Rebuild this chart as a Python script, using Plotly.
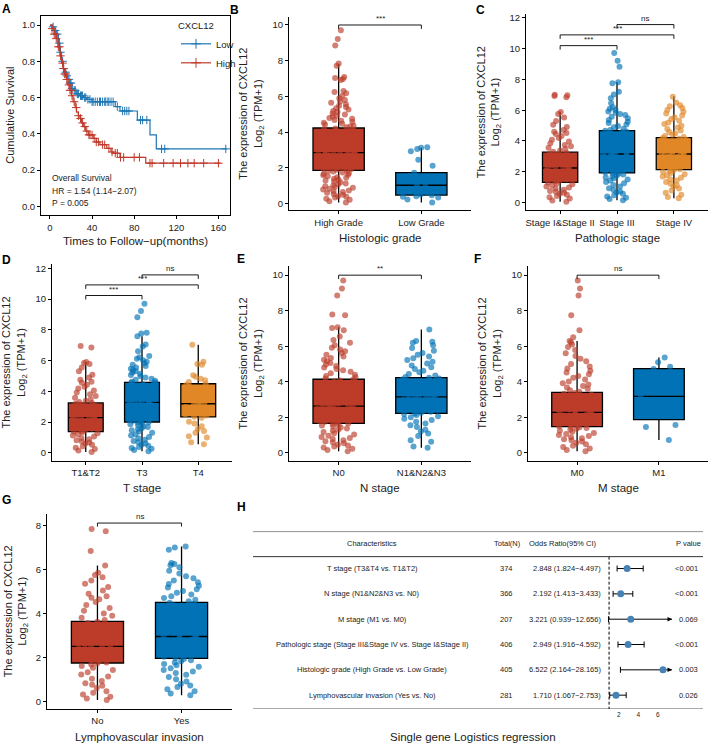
import numpy as np
import plotly.graph_objects as go

W, H = 708, 743
RED, BLUE, ORANGE = "#BC3C29", "#0072B5", "#E18727"
KM_RED, KM_BLUE = "#C0392B", "#1F77B4"
FONT = "Arial, Liberation Sans, sans-serif"
TXT = "#222222"

# ---------------- A: Kaplan-Meier ----------------
km_low_t = [0, 2, 4, 6, 8, 9.5, 11, 12.7, 14, 15.8, 17, 19, 21, 22, 25, 28.5, 32, 35, 40, 62, 66.5, 83, 95, 101, 168]
km_low_s = [1.0, 0.99, 0.97, 0.95, 0.9, 0.85, 0.8, 0.76, 0.74, 0.72, 0.7, 0.68, 0.65, 0.64, 0.62, 0.61, 0.6, 0.59,
            0.577, 0.55, 0.526, 0.476, 0.394, 0.317, 0.317]
km_low_cens = [3, 5, 7, 9, 10, 12, 13, 15, 16, 18, 19, 20, 21, 23, 24, 26, 27, 29, 30, 31, 33, 34, 36, 38, 40, 41,
               43, 45, 47, 48, 50, 52, 53, 55, 56, 58, 60, 64, 69, 71, 73, 75, 86, 88, 92, 106, 109, 167]
km_high_t = [0, 2, 4, 6, 7.5, 9.5, 11, 12.7, 14, 15.8, 17, 19, 20.5, 22, 24, 25.3, 27, 28.5, 30, 31.7, 34, 36.4,
             41, 44, 47.5, 54, 58, 60, 66.5, 91, 162]
km_high_s = [1.0, 0.98, 0.95, 0.925, 0.88, 0.83, 0.79, 0.76, 0.73, 0.70, 0.67, 0.64, 0.61, 0.577, 0.545, 0.52, 0.50,
             0.485, 0.46, 0.44, 0.415, 0.394, 0.375, 0.355, 0.34, 0.32, 0.30, 0.293, 0.27, 0.238, 0.238]
km_high_cens = [2, 4, 5, 6, 8, 9, 10, 12, 13, 14, 15, 16, 18, 19, 20, 21, 23, 25, 27, 29, 31, 33, 35, 37, 38, 40,
                42, 44, 46, 50, 52, 56, 59, 62, 64, 67, 70, 80, 85, 95, 97, 108, 117, 124, 131, 137, 146, 160]

# ---------------- B: histologic grade ----------------
grade_cats = ["High Grade", "Low Grade"]
grade_q1 = [1.86, 0.47]
grade_med = [2.85, 1.02]
grade_q3 = [4.23, 1.73]
grade_lo = [0.06, 0.05]
grade_hi = [7.82, 3.12]
grade_high_pts = [
    0.06, 0.12, 0.21, 0.27, 0.33, 0.38, 0.41, 0.49, 0.53, 0.6, 0.64, 0.68, 0.73, 0.79, 0.83, 0.88, 0.93, 0.97, 1.02,
    1.08, 1.12, 1.19, 1.24, 1.29, 1.33, 1.38, 1.44, 1.47, 1.53, 1.58, 1.61, 1.66, 1.7, 1.74, 1.79, 1.82, 1.85,
    1.89, 1.93, 1.96, 2.01, 2.04, 2.09, 2.11, 2.16, 2.19, 2.23, 2.25, 2.29, 2.32, 2.37, 2.39, 2.44, 2.47, 2.49, 2.52,
    2.56, 2.59, 2.61, 2.64, 2.67, 2.69, 2.71, 2.74, 2.76, 2.78, 2.8, 2.83, 2.84,
    2.88, 2.92, 2.97, 3.01, 3.06, 3.09, 3.14, 3.18, 3.21, 3.26, 3.31, 3.35, 3.37, 3.42, 3.46, 3.49, 3.54, 3.58, 3.63,
    3.66, 3.71, 3.74, 3.78, 3.83, 3.88, 3.91, 3.95, 3.99, 4.03, 4.07, 4.12, 4.16, 4.2,
    4.27, 4.31, 4.36, 4.42, 4.47, 4.52, 4.58, 4.63, 4.68, 4.74, 4.79, 4.86, 4.92, 4.98, 5.04, 5.12, 5.18, 5.26, 5.33,
    5.4, 5.48, 5.56, 5.64, 5.72, 5.8, 5.9, 6.02, 6.18, 6.24, 6.3, 6.92, 6.97, 7.03, 7.08, 7.72, 7.84, 8.85, 9.22, 9.7]
grade_low_pts = [3.12, 3.05, 2.92, 3.15, 2.45, 2.12, 1.72, 1.55, 1.25, 1.02, 0.95, 0.82, 0.65, 0.58, 0.5, 0.46,
                 0.41, 0.38, 0.33, 0.22, 0.05]
grade_sig = [("High Grade", "Low Grade", 10.0, "***")]

# ---------------- C: pathologic stage ----------------
stage_cats = ["Stage I&Stage II", "Stage III", "Stage IV"]
stage_q1 = [1.31, 1.92, 2.13]
stage_med = [2.24, 3.15, 3.15]
stage_q3 = [3.27, 4.67, 4.22]
stage_lo = [0.04, 0.14, 0.28]
stage_hi = [5.9, 7.84, 6.9]
stage_12_pts = [
    0.04, 0.12, 0.25, 0.33, 0.42, 0.5, 0.56, 0.63, 0.7, 0.74, 0.82, 0.9, 0.97, 1.04, 1.11, 1.18, 1.24, 1.3,
    1.36, 1.43, 1.5, 1.56, 1.63, 1.69, 1.75, 1.82, 1.88, 1.93, 2.0, 2.06, 2.11, 2.17, 2.21,
    2.27, 2.33, 2.4, 2.46, 2.52, 2.58, 2.64, 2.71, 2.77, 2.84, 2.9, 2.97, 3.03, 3.1, 3.16, 3.22,
    3.3, 3.38, 3.47, 3.55, 3.66, 3.74, 3.85, 3.97, 4.08, 4.2, 4.33, 4.45, 4.52, 4.6, 4.72, 4.9, 5.05, 5.3, 5.52,
    5.75, 5.88, 6.85, 6.92, 6.97, 7.0]
stage_3_pts = [
    0.14, 0.22, 0.3, 0.38, 0.47, 0.56, 0.64, 0.72, 0.81, 0.92, 1.03, 1.14, 1.25, 1.33, 1.42, 1.5, 1.57, 1.63, 1.7,
    1.76, 1.81, 1.86, 1.9,
    1.94, 2.0, 2.07, 2.13, 2.2, 2.27, 2.33, 2.4, 2.47, 2.53, 2.6, 2.66, 2.72, 2.79, 2.85, 2.91, 2.97, 3.02, 3.07,
    3.11, 3.14,
    3.17, 3.22, 3.3, 3.37, 3.45, 3.51, 3.58, 3.66, 3.73, 3.81, 3.88, 3.96, 4.04, 4.12, 4.19, 4.27, 4.35, 4.42, 4.5,
    4.56, 4.62, 4.66,
    4.72, 4.8, 4.89, 4.98, 5.07, 5.16, 5.25, 5.36, 5.47, 5.58, 5.69, 5.76, 5.83, 5.92, 6.02, 6.1, 6.2, 6.45, 6.78,
    7.02, 7.2, 7.75, 7.82, 8.82, 9.22, 9.72]
stage_4_pts = [
    0.28, 0.35, 0.5, 0.63, 0.78, 0.9, 1.02, 1.12, 1.22, 1.33, 1.42, 1.51, 1.6, 1.68, 1.77, 1.84, 1.91, 1.99, 2.05, 2.1,
    2.16, 2.22, 2.29, 2.35, 2.41, 2.48, 2.54, 2.6, 2.67, 2.73, 2.79, 2.85, 2.91, 2.96, 3.02, 3.07, 3.11, 3.14,
    3.17, 3.22, 3.28, 3.34, 3.4, 3.47, 3.53, 3.59, 3.65, 3.71, 3.77, 3.83, 3.89, 3.96, 4.02, 4.08, 4.14, 4.2,
    4.25, 4.32, 4.4, 4.49, 4.58, 4.68, 4.78, 4.88, 4.99, 5.1, 5.2, 5.31, 5.42, 5.53, 5.65, 5.78, 5.9, 6.02, 6.15,
    6.26, 6.32, 6.5, 6.88]
stage_sig = [("Stage I&Stage II", "Stage III", 10.2, "***"),
             ("Stage I&Stage II", "Stage IV", 10.9, "***"),
             ("Stage III", "Stage IV", 11.57, "ns")]

# ---------------- D: T stage ----------------
t_cats = ["T1&T2", "T3", "T4"]
t_q1 = [1.38, 2.0, 2.33]
t_med = [2.29, 3.28, 3.19]
t_q3 = [3.24, 4.58, 4.49]
t_lo = [0.05, 0.1, 0.55]
t_hi = [5.9, 7.58, 7.02]
t_12_pts = [
    0.05, 0.14, 0.24, 0.32, 0.43, 0.52, 0.6, 0.67, 0.74, 0.81, 0.88, 0.96, 1.05, 1.12, 1.2, 1.27, 1.33, 1.37,
    1.42, 1.49, 1.56, 1.62, 1.69, 1.76, 1.82, 1.89, 1.95, 2.02, 2.08, 2.14, 2.2, 2.25, 2.28,
    2.32, 2.38, 2.45, 2.51, 2.57, 2.63, 2.7, 2.76, 2.82, 2.88, 2.94, 3.0, 3.07, 3.13, 3.19, 3.23,
    3.3, 3.38, 3.47, 3.58, 3.69, 3.8, 3.92, 4.05, 4.18, 4.3, 4.42, 4.55, 4.62, 4.75, 4.9, 5.08, 5.3, 5.55, 5.78,
    5.84, 5.9, 6.85, 6.95]
t_3_pts = [
    0.1, 0.18, 0.26, 0.31, 0.38, 0.45, 0.52, 0.6, 0.68, 0.76, 0.85, 0.94, 1.03, 1.12, 1.21, 1.3, 1.38, 1.46, 1.53,
    1.6, 1.67, 1.73, 1.79, 1.85, 1.9, 1.95, 1.99,
    2.03, 2.09, 2.15, 2.21, 2.27, 2.33, 2.39, 2.45, 2.51, 2.57, 2.63, 2.69, 2.75, 2.81, 2.87, 2.93, 2.99, 3.05, 3.11,
    3.16, 3.21, 3.25, 3.27,
    3.3, 3.36, 3.42, 3.48, 3.54, 3.6, 3.66, 3.72, 3.78, 3.84, 3.9, 3.96, 4.02, 4.08, 4.14, 4.2, 4.26, 4.32, 4.38,
    4.44, 4.5, 4.55, 4.57,
    4.62, 4.68, 4.75, 4.82, 4.9, 4.98, 5.06, 5.14, 5.22, 5.3, 5.38, 5.46, 5.55, 5.64, 5.73, 5.82, 5.92, 6.02, 6.12,
    6.22, 6.3, 6.6, 6.92, 7.05, 7.58, 7.75, 7.8, 8.82, 9.22, 9.7]
t_4_pts = [0.55, 0.68, 1.0, 1.08, 1.3, 1.42, 1.55, 1.72, 1.9, 2.02, 2.28, 2.35, 2.42, 2.5, 2.6, 2.72, 2.85, 2.98,
           3.08, 3.15, 3.22, 3.3, 3.42, 3.58, 3.72, 3.88, 4.02, 4.2, 4.3, 4.4, 4.48, 4.6, 4.72, 4.82, 4.95, 5.05,
           5.72, 5.78, 5.92, 7.02]
t_sig = [("T1&T2", "T3", 10.23, "***"), ("T1&T2", "T4", 10.92, "***"), ("T3", "T4", 11.57, "ns")]

# ---------------- E: N stage ----------------
n_cats = ["N0", "N1&N2&N3"]
n_q1 = [1.66, 2.22]
n_med = [2.63, 3.15]
n_q3 = [4.14, 4.23]
n_lo = [0.08, 0.28]
n_hi = [7.07, 6.94]
n_0_pts = [
    0.08, 0.15, 0.22, 0.29, 0.35, 0.41, 0.47, 0.53, 0.59, 0.65, 0.71, 0.77, 0.83, 0.89, 0.96, 1.03, 1.1, 1.17, 1.24,
    1.3, 1.36, 1.42, 1.48, 1.53, 1.58, 1.62, 1.65,
    1.69, 1.74, 1.79, 1.84, 1.89, 1.94, 1.99, 2.04, 2.09, 2.14, 2.19, 2.24, 2.29, 2.34, 2.39, 2.44, 2.48, 2.52,
    2.56, 2.59, 2.62,
    2.66, 2.72, 2.78, 2.84, 2.9, 2.96, 3.03, 3.1, 3.17, 3.24, 3.31, 3.38, 3.45, 3.52, 3.59, 3.66, 3.73, 3.8, 3.87,
    3.94, 4.01, 4.07, 4.12,
    4.18, 4.25, 4.32, 4.4, 4.48, 4.56, 4.64, 4.72, 4.8, 4.88, 4.97, 5.06, 5.15, 5.24, 5.33, 5.42, 5.52, 5.62, 5.72,
    5.82, 5.92, 6.05, 6.2, 6.35, 6.55, 6.9, 7.02, 7.07, 7.75, 7.78, 8.85, 9.25, 9.7]
n_123_pts = [
    0.28, 0.35, 0.62, 0.7, 0.95, 1.08, 1.2, 1.3, 1.45, 1.55, 1.65, 1.75, 1.85, 1.92, 2.0, 2.06, 2.12, 2.18, 2.21,
    2.25, 2.31, 2.37, 2.43, 2.49, 2.55, 2.61, 2.67, 2.73, 2.79, 2.85, 2.91, 2.97, 3.03, 3.08, 3.12, 3.14,
    3.17, 3.22, 3.28, 3.34, 3.4, 3.46, 3.52, 3.58, 3.64, 3.7, 3.76, 3.82, 3.88, 3.94, 4.0, 4.06, 4.12, 4.18, 4.22,
    4.27, 4.35, 4.44, 4.53, 4.62, 4.72, 4.82, 4.92, 5.02, 5.12, 5.22, 5.32, 5.42, 5.52, 5.62, 5.75, 5.9, 6.05, 6.2,
    6.25, 6.3, 6.94]
n_sig = [("N0", "N1&N2&N3", 10.0, "**")]

# ---------------- F: M stage ----------------
m_cats = ["M0", "M1"]
m_q1 = [1.47, 1.87]
m_med = [2.28, 3.17]
m_q3 = [3.4, 4.74]
m_lo = [0.08, 0.72]
m_hi = [6.29, 5.37]
m_0_pts = [
    0.08, 0.16, 0.24, 0.32, 0.4, 0.48, 0.56, 0.63, 0.7, 0.76, 0.82, 0.88, 0.94, 1.0, 1.06, 1.12, 1.18, 1.24, 1.3,
    1.35, 1.4, 1.44, 1.46,
    1.5, 1.55, 1.6, 1.65, 1.7, 1.75, 1.8, 1.85, 1.9, 1.95, 2.0, 2.05, 2.1, 2.15, 2.19, 2.23, 2.26,
    2.3, 2.36, 2.42, 2.48, 2.54, 2.6, 2.66, 2.72, 2.78, 2.84, 2.9, 2.96, 3.02, 3.08, 3.14, 3.2, 3.26, 3.32, 3.37,
    3.44, 3.52, 3.6, 3.68, 3.76, 3.84, 3.92, 4.02, 4.12, 4.22, 4.32, 4.42, 4.52, 4.62, 4.74, 4.86, 5.0, 5.15, 5.3,
    5.45, 5.6, 5.78, 5.95, 6.1, 6.22, 6.29, 6.5, 6.9, 7.75, 8.85, 9.25, 9.7]
m_1_pts = [5.37, 5.1, 4.85, 4.72, 3.2, 1.57, 1.45, 0.72]
m_sig = [("M0", "M1", 10.0, "ns")]

# ---------------- G: lymphovascular invasion ----------------
lv_cats = ["No", "Yes"]
lv_q1 = [1.74, 1.95]
lv_med = [2.5, 2.95]
lv_q3 = [3.64, 4.5]
lv_lo = [0.05, 0.27]
lv_hi = [6.18, 7.05]
lv_no_pts = [
    0.05, 0.12, 0.2, 0.3, 0.38, 0.45, 0.6, 0.7, 0.75, 0.82, 0.92, 1.02, 1.12, 1.22, 1.32, 1.42, 1.52, 1.6, 1.67, 1.72,
    1.76, 1.82, 1.88, 1.94, 2.0, 2.06, 2.12, 2.18, 2.24, 2.3, 2.36, 2.42, 2.47, 2.49,
    2.52, 2.58, 2.65, 2.72, 2.79, 2.86, 2.93, 3.0, 3.07, 3.14, 3.21, 3.28, 3.35, 3.42, 3.49, 3.56, 3.62,
    3.7, 3.8, 3.9, 4.0, 4.12, 4.25, 4.38, 4.52, 4.65, 4.72, 4.78, 4.9, 5.05, 5.2, 5.35, 5.5, 5.65, 5.75, 5.85, 6.18,
    6.85, 7.75, 7.85]
lv_yes_pts = [
    0.27, 0.35, 0.45, 0.55, 0.65, 0.72, 0.8, 0.9, 1.0, 1.1, 1.2, 1.28, 1.35, 1.42, 1.5, 1.57, 1.64, 1.7, 1.76, 1.82,
    1.87, 1.92,
    1.97, 2.03, 2.09, 2.15, 2.21, 2.27, 2.33, 2.39, 2.45, 2.51, 2.57, 2.63, 2.69, 2.75, 2.81, 2.87, 2.91, 2.94,
    2.97, 3.04, 3.11, 3.18, 3.25, 3.32, 3.39, 3.46, 3.53, 3.6, 3.67, 3.74, 3.81, 3.88, 3.95, 4.02, 4.09, 4.16, 4.23,
    4.3, 4.37, 4.44, 4.49,
    4.55, 4.62, 4.7, 4.78, 4.86, 4.94, 5.02, 5.1, 5.18, 5.26, 5.34, 5.42, 5.5, 5.6, 5.7, 5.82, 5.95, 6.1, 6.2, 6.25,
    6.3, 6.9, 7.0, 7.05]
lv_sig = [("No", "Yes", 8.12, "ns")]

# ---------------- H: logistic regression table ----------------
forest_labels = ["T stage (T3&T4 vs. T1&T2)", "N stage (N1&N2&N3 vs. N0)", "M stage (M1 vs. M0)",
                 "Pathologic stage (Stage III&Stage IV vs. Stage I&Stage II)",
                 "Histologic grade (High Grade vs. Low Grade)", "Lymphovascular invasion (Yes vs. No)"]
forest_n = [374, 366, 207, 406, 405, 281]
forest_or = [2.848, 2.192, 3.221, 2.949, 6.522, 1.710]
forest_lo = [1.824, 1.413, 0.939, 1.916, 2.164, 1.067]
forest_hi = [4.497, 3.433, 12.656, 4.592, 28.165, 2.753]
forest_p = ["<0.001", "<0.001", "0.069", "<0.001", "0.003", "0.026"]


def fx(px):
    return px / W


def fy(py):
    return 1 - py / H


def dom_x(a, b):
    return [a / W, b / W]


def dom_y(top, bottom):
    return [1 - bottom / H, 1 - top / H]


def ax_id(n):
    return ("x" if n == 1 else f"x{n}"), ("y" if n == 1 else f"y{n}")


def ax_key(n):
    return ("xaxis" if n == 1 else f"xaxis{n}"), ("yaxis" if n == 1 else f"yaxis{n}")


base_axis = dict(showline=True, linecolor="black", linewidth=1, ticks="outside", ticklen=3, tickwidth=1,
                 tickcolor="black", tickfont=dict(size=9.5, color=TXT, family=FONT), showgrid=False,
                 zeroline=False, fixedrange=True)

fig = go.Figure()
layout = {}
annos = []
shapes = []


def text(t, x, y, size=11, xanchor="center", yanchor="middle", angle=0, xref="paper", yref="paper", bold=False):
    annos.append(dict(text=f"<b>{t}</b>" if bold else t, x=x, y=y, xref=xref, yref=yref, showarrow=False,
                      xanchor=xanchor, yanchor=yanchor, textangle=angle,
                      font=dict(size=size, color=TXT if not bold else "black", family=FONT)))


# ---------------- panel A ----------------
xa, ya = ax_id(1)
kx, ky = ax_key(1)
layout[kx] = dict(base_axis, domain=dom_x(41, 230), anchor=ya, range=[-8.5, 171], tickvals=[0, 40, 80, 120, 160],
                  mirror=True)
layout[ky] = dict(base_axis, domain=dom_y(14, 214), anchor=xa, range=[-0.05, 1.05],
                  tickvals=[0, 0.2, 0.4, 0.6, 0.8, 1.0], tickformat=".1f", mirror=True)

for name, t, s, cens, col in [("Low", km_low_t, km_low_s, km_low_cens, KM_BLUE),
                              ("High", km_high_t, km_high_s, km_high_cens, KM_RED)]:
    fig.add_trace(go.Scatter(x=t, y=s, mode="lines", line=dict(color=col, width=1.2, shape="hv"),
                             showlegend=False, xaxis=xa, yaxis=ya, hoverinfo="skip"))
    idx = np.searchsorted(np.array(t), np.array(cens), side="right") - 1
    fig.add_trace(go.Scatter(x=cens, y=np.array(s)[idx], mode="markers",
                             marker=dict(symbol="cross-thin", size=6, line=dict(color=col, width=1)),
                             showlegend=False, xaxis=xa, yaxis=ya, hoverinfo="skip"))
    fig.add_trace(go.Scatter(x=[None], y=[None], mode="lines+markers", name=name,
                             line=dict(color=col, width=1.2),
                             marker=dict(symbol="cross-thin", size=7, line=dict(color=col, width=1)),
                             xaxis=xa, yaxis=ya))

text("Overall Survival", 0, 0.156, size=8.5, xanchor="left", xref=xa, yref=ya)
text("HR = 1.54 (1.14\u22122.07)", 0, 0.082, size=8.5, xanchor="left", xref=xa, yref=ya)
text("P = 0.005", 0, 0.018, size=8.5, xanchor="left", xref=xa, yref=ya)
text("Cumulative Survival", fx(10), fy(114), angle=-90)
text("Times to Follow\u2212up(months)", fx(135.5), fy(240), size=11.5)


# ---------------- box panels ----------------
def box_panel(n, cats, colors, q1, med, q3, lo, hi, pts, sig, dx, dy, yr, yticks, xtitle, xtitle_y, ytitle_dx,
              drop):
    xa, ya = ax_id(n)
    kx, ky = ax_key(n)
    layout[kx] = dict(base_axis, domain=dom_x(*dx), anchor=ya, type="category", categoryorder="array",
                      categoryarray=cats, range=[-0.6, len(cats) - 0.4])
    layout[ky] = dict(base_axis, domain=dom_y(*dy), anchor=xa, range=yr, tickvals=yticks)
    for i, c in enumerate(cats):
        fig.add_trace(go.Box(x=[c], q1=[q1[i]], median=[med[i]], q3=[q3[i]], lowerfence=[lo[i]],
                             upperfence=[hi[i]], fillcolor=colors[i], line=dict(color="black", width=1.3),
                             width=0.62, whiskerwidth=0, boxpoints=False, showlegend=False,
                             xaxis=xa, yaxis=ya, hoverinfo="skip"))
        fig.add_trace(go.Box(x=[c] * len(pts[i]), y=pts[i], boxpoints="all", jitter=0.85, pointpos=0,
                             fillcolor="rgba(0,0,0,0)", line=dict(color="rgba(0,0,0,0)", width=0),
                             marker=dict(color=colors[i], opacity=0.65, size=6), width=0.62, whiskerwidth=0,
                             showlegend=False, xaxis=xa, yaxis=ya, hoverinfo="skip"))
    for g1, g2, yv, lab in sig:
        fig.add_trace(go.Scatter(x=[g1, g1, g2, g2], y=[yv - drop, yv, yv, yv - drop], mode="lines",
                                 line=dict(color="black", width=0.9), showlegend=False, xaxis=xa, yaxis=ya,
                                 hoverinfo="skip"))
        mid = (cats.index(g1) + cats.index(g2)) / 2
        text(lab, mid, yv, size=8, yanchor="bottom", xref=xa, yref=ya)
    text("The expression of CXCL12<br>Log<sub>2</sub> (TPM+1)", fx(dx[0] - ytitle_dx), fy((dy[0] + dy[1]) / 2),
         angle=-90)
    text(xtitle, fx((dx[0] + dx[1]) / 2), fy(xtitle_y), size=11.5)


box_panel(2, grade_cats, [RED, BLUE], grade_q1, grade_med, grade_q3, grade_lo, grade_hi,
          [grade_high_pts, grade_low_pts], grade_sig, (289, 471), (15, 209), [-0.39, 10.45],
          [0, 2, 4, 6, 8, 10], "Histologic grade", 237, 37, 0.22)
box_panel(3, stage_cats, [RED, BLUE, ORANGE], stage_q1, stage_med, stage_q3, stage_lo, stage_hi,
          [stage_12_pts, stage_3_pts, stage_4_pts], stage_sig, (526, 708), (12, 209), [-0.52, 12.26],
          [0, 2, 4, 6, 8, 10, 12], "Pathologic stage", 237, 37, 0.26)
box_panel(4, t_cats, [RED, BLUE, ORANGE], t_q1, t_med, t_q3, t_lo, t_hi,
          [t_12_pts, t_3_pts, t_4_pts], t_sig, (52, 232), (263, 460), [-0.52, 12.26],
          [0, 2, 4, 6, 8, 10, 12], "T stage", 487, 37, 0.26)
box_panel(5, n_cats, [RED, BLUE], n_q1, n_med, n_q3, n_lo, n_hi,
          [n_0_pts, n_123_pts], n_sig, (289, 471), (265, 460), [-0.45, 10.5],
          [0, 2, 4, 6, 8, 10], "N stage", 487, 37, 0.22)
box_panel(6, m_cats, [RED, BLUE], m_q1, m_med, m_q3, m_lo, m_hi,
          [m_0_pts, m_1_pts], m_sig, (528, 708), (265, 460), [-0.45, 10.5],
          [0, 2, 4, 6, 8, 10], "M stage", 487, 37, 0.22)
box_panel(7, lv_cats, [RED, BLUE], lv_q1, lv_med, lv_q3, lv_lo, lv_hi,
          [lv_no_pts, lv_yes_pts], lv_sig, (47, 232), (513, 709), [-0.36, 8.55],
          [0, 2, 4, 6, 8], "Lymphovascular invasion", 737, 31, 0.16)

# ---------------- panel H: forest table ----------------
xa, ya = ax_id(8)
kx, ky = ax_key(8)
fx_max = 7.45
layout[kx] = dict(domain=dom_x(600, 672), anchor=ya, range=[0.07, fx_max], tickvals=[2, 4, 6], showline=False,
                  ticks="", showgrid=False, zeroline=False, fixedrange=True,
                  tickfont=dict(size=6.5, color=TXT, family=FONT))
layout[ky] = dict(domain=dom_y(531, 709), anchor=xa, range=[5.55, -1.46], visible=False, fixedrange=True)

rows = list(range(len(forest_labels)))
orv = np.array(forest_or)
fig.add_trace(go.Scatter(x=forest_or, y=rows, mode="markers",
                         marker=dict(color="#4682B4", size=7),
                         error_x=dict(type="data", symmetric=False,
                                      array=np.array(forest_hi) - orv, arrayminus=orv - np.array(forest_lo),
                                      color="black", thickness=1, width=3),
                         showlegend=False, xaxis=xa, yaxis=ya, hoverinfo="skip"))
for i, h in enumerate(forest_hi):
    if h > fx_max:
        annos.append(dict(x=fx_max, y=i, ax=fx_max - 0.4, ay=i, xref=xa, yref=ya, axref=xa, ayref=ya,
                          showarrow=True, arrowhead=2, arrowsize=0.9, arrowwidth=1, arrowcolor="black", text=""))

shapes.append(dict(type="line", xref=xa, yref=ya, x0=1, x1=1, y0=-0.47, y1=5.55,
                   line=dict(color="black", width=1, dash="3px,2px")))
for yv in [-1.46, -0.47, 5.55]:
    shapes.append(dict(type="line", xref="paper", yref=ya, x0=fx(253), x1=fx(703), y0=yv, y1=yv,
                       line=dict(color="#333333", width=1)))

text("Characteristics", fx(372), -1, size=7.5, yref=ya)
text("Total(N)", fx(507), -1, size=7.5, yref=ya)
text("Odds Ratio(95% CI)", fx(563), -1, size=7.5, yref=ya)
text("P value", fx(703), -1, size=7.5, xanchor="right", yref=ya)
for i in rows:
    text(forest_labels[i], fx(372), i, size=7.5, yref=ya)
    text(str(forest_n[i]), fx(506), i, size=7.5, yref=ya)
    text(f"{forest_or[i]:.3f} ({forest_lo[i]:.3f}\u2212{forest_hi[i]:.3f})", fx(603), i, size=7.5,
         xanchor="right", yref=ya)
    text(forest_p[i], fx(700), i, size=7.5, xanchor="right", yref=ya)
text("Single gene Logistics regression", fx(473), fy(737), size=11.5)

# ---------------- panel letters ----------------
for lab, px, py in [("A", 6, 7), ("B", 234, 8), ("C", 480, 8), ("D", 6, 259), ("E", 241, 258),
                    ("F", 477, 258), ("G", 6, 499), ("H", 241, 506)]:
    text(lab, fx(px), fy(py), size=12, bold=True)

fig.update_layout(
    width=W, height=H, autosize=False,
    margin=dict(l=0, r=0, t=0, b=0),
    paper_bgcolor="white", plot_bgcolor="white",
    font=dict(family=FONT, color=TXT),
    boxmode="overlay",
    showlegend=True,
    legend=dict(x=fx(176), y=fy(15), xanchor="left", yanchor="top", bgcolor="rgba(0,0,0,0)",
                font=dict(size=9.5, family=FONT), title=dict(text="CXCL12", font=dict(size=9.5)),
                itemwidth=30, tracegroupgap=0),
    annotations=annos,
    shapes=shapes,
    **layout,
)

# page body has a default 8px margin; drop it so the 708x743 figure fills the window exactly
fig.write_html("out.html", config={"displayModeBar": False},
               post_script="document.body.style.margin='0px';document.body.style.overflow='hidden';")
